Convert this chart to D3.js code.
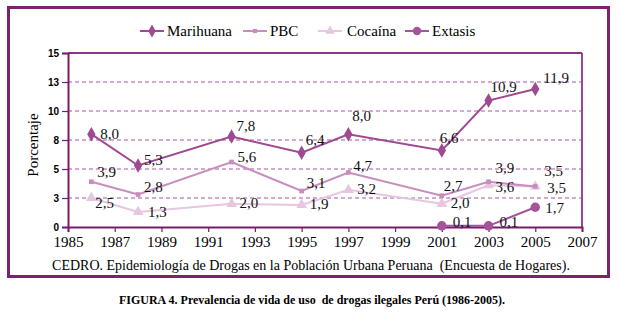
<!DOCTYPE html>
<html><head><meta charset="utf-8">
<script src="https://cdn.jsdelivr.net/npm/d3@7"></script>
<style>body{margin:0;background:#fff}svg{display:block}</style>
</head><body>
<svg id="c" width="619" height="313"></svg>
<script>
const years = [1986, 1988, 1992, 1995, 1997, 2001, 2003, 2005];
const marihuana = [8.0, 5.3, 7.8, 6.4, 8.0, 6.6, 10.9, 11.9];
const pbc = [3.9, 2.8, 5.6, 3.1, 4.7, 2.7, 3.9, 3.5];
const cocaina = [2.5, 1.3, 2.0, 1.9, 3.2, 2.0, 3.6, 3.5];
const extasisYears = [2001, 2003, 2005];
const extasis = [0.1, 0.1, 1.7];
const yTickValues = [0, 2.5, 5, 7.5, 10, 12.5, 15];
const yTickLabels = ["0", "3", "5", "8", "10", "13", "15"];
const xTickValues = [1985, 1987, 1989, 1991, 1993, 1995, 1997, 1999, 2001, 2003, 2005, 2007];

const SERIF = '"Liberation Serif", "Times New Roman", serif';
const SANS = '"Liberation Sans", Arial, sans-serif';
const svg = d3.select("#c");
const x = d3.scaleLinear().domain([1985, 2007]).range([68, 582]);
const y = d3.scaleLinear().domain([0, 15]).range([227, 53]);

svg.append("rect").attr("x", 8.5).attr("y", 7.5).attr("width", 600).attr("height", 269)
  .attr("fill", "none").attr("stroke", "#7d1f72").attr("stroke-width", 3);

const g = svg.append("g");
g.selectAll("line").data(yTickValues.filter(v => v > 0 && v < 15)).join("line")
  .attr("x1", 68).attr("x2", 582).attr("y1", d => y(d)).attr("y2", d => y(d))
  .attr("stroke", "#a8559f").attr("stroke-width", 1).attr("stroke-dasharray", "4,3");
svg.append("line").attr("x1", 68).attr("x2", 582).attr("y1", y(15)).attr("y2", y(15))
  .attr("stroke", "#8e3583").attr("stroke-width", 1.8);
svg.append("line").attr("x1", 582).attr("x2", 582).attr("y1", y(15)).attr("y2", y(0))
  .attr("stroke", "#8e3583").attr("stroke-width", 1.8);

const yAxis = d3.axisLeft(y).tickValues(yTickValues).tickSize(6).tickPadding(3)
  .tickFormat((d, i) => yTickLabels[i]);
const ya = svg.append("g").attr("transform", "translate(68,0)").call(yAxis);
ya.select(".domain").attr("stroke", "#7a1a6d").attr("stroke-width", 2);
ya.selectAll(".tick line").attr("stroke", "#7a1a6d").attr("stroke-width", 1.2);
ya.selectAll(".tick text").style("font-family", SANS).style("font-weight", "bold")
  .style("font-size", "10px").attr("fill", "#000");

const xAxis = d3.axisBottom(x).tickValues(xTickValues).tickSize(5).tickPadding(4)
  .tickFormat(d3.format("d"));
const xa = svg.append("g").attr("transform", "translate(0,227)").call(xAxis);
xa.select(".domain").attr("stroke", "#7a1a6d").attr("stroke-width", 2);
xa.selectAll(".tick line").attr("stroke", "#7a1a6d").attr("stroke-width", 1.2);
xa.selectAll(".tick text").style("font-family", SERIF).style("font-size", "15px").attr("fill", "#000");

svg.append("text").attr("transform", "translate(38,145) rotate(-90)")
  .attr("text-anchor", "middle").style("font-family", SERIF).style("font-size", "15px")
  .attr("fill", "#000").text("Porcentaje");

const series = [
  {name: "Marihuana", xs: years, vs: marihuana, color: "#9e4992", sym: d3.symbolDiamond, size: 60,
   off: [[9,0],[6,-6],[5,-11],[4,-13],[4,-18],[-2,-13],[2,-14],[8,-11]]},
  {name: "PBC", xs: years, vs: pbc, color: "#c88dbd", sym: d3.symbolSquare, size: 22,
   off: [[6,-10],[6,-8],[6,-5],[5,-8],[5,-7],[2,-10],[7,-14],[9,-16]]},
  {name: "Cocaína", xs: years, vs: cocaina, color: "#e6c6e0", sym: d3.symbolTriangle, size: 50,
   off: [[4,5],[10,0],[8,-1],[8,-1],[9,-1],[9,-1],[7,2],[12,1]]},
  {name: "Extasis", xs: extasisYears, vs: extasis, color: "#a4559a", sym: d3.symbolCircle, size: 70,
   off: [[11,-4],[11,-4],[10,0]]}
];
const fmt = v => v.toFixed(1).replace(".", ",");
const line = d3.line().x(d => x(d[0])).y(d => y(d[1]));

[2, 1, 3, 0].forEach(si => {
  const s = series[si];
  const pts = s.xs.map((xx, i) => [xx, s.vs[i]]);
  svg.append("path").datum(pts).attr("d", line).attr("fill", "none")
    .attr("stroke", s.color).attr("stroke-width", 2);
  svg.append("g").selectAll("path").data(pts).join("path")
    .attr("transform", d => `translate(${x(d[0])},${y(d[1])})`)
    .attr("d", d3.symbol().type(s.sym).size(s.size)).attr("fill", s.color);
});
series.forEach(s => {
  svg.append("g").selectAll("text").data(s.xs.map((xx, i) => [xx, s.vs[i], i])).join("text")
    .attr("x", d => x(d[0]) + s.off[d[2]][0])
    .attr("y", d => y(d[1]) + s.off[d[2]][1])
    .attr("dy", "0.35em").style("font-family", SERIF).style("font-size", "15px").attr("fill", "#111")
    .text(d => fmt(d[1]));
});

const legendPos = [[140, 167], [243, 270], [318, 347], [405, 432]];
series.forEach((s, i) => {
  const [lx, tx] = legendPos[i];
  svg.append("line").attr("x1", lx).attr("x2", lx + 24).attr("y1", 31).attr("y2", 31)
    .attr("stroke", s.color).attr("stroke-width", 2);
  svg.append("path").attr("transform", `translate(${lx + 12},31)`)
    .attr("d", d3.symbol().type(s.sym).size(s.size * 0.8)).attr("fill", s.color);
  svg.append("text").attr("x", tx).attr("y", 31).attr("dy", "0.35em")
    .style("font-family", SERIF).style("font-size", "15px").attr("fill", "#000").text(s.name);
});

svg.append("text").attr("x", 311).attr("y", 265).attr("dy", "0.35em")
  .attr("text-anchor", "middle").style("font-family", SERIF).style("font-size", "14px").attr("fill", "#000")
  .text("CEDRO. Epidemiología de Drogas en la Población Urbana Peruana\u00a0 (Encuesta de Hogares).");
svg.append("text").attr("x", 312).attr("y", 300).attr("dy", "0.35em")
  .attr("text-anchor", "middle").style("font-family", SERIF).style("font-size", "12px")
  .style("font-weight", "bold").attr("fill", "#000")
  .text("FIGURA 4. Prevalencia de vida de uso\u00a0 de drogas ilegales Perú (1986-2005).");
</script>
</body></html>
